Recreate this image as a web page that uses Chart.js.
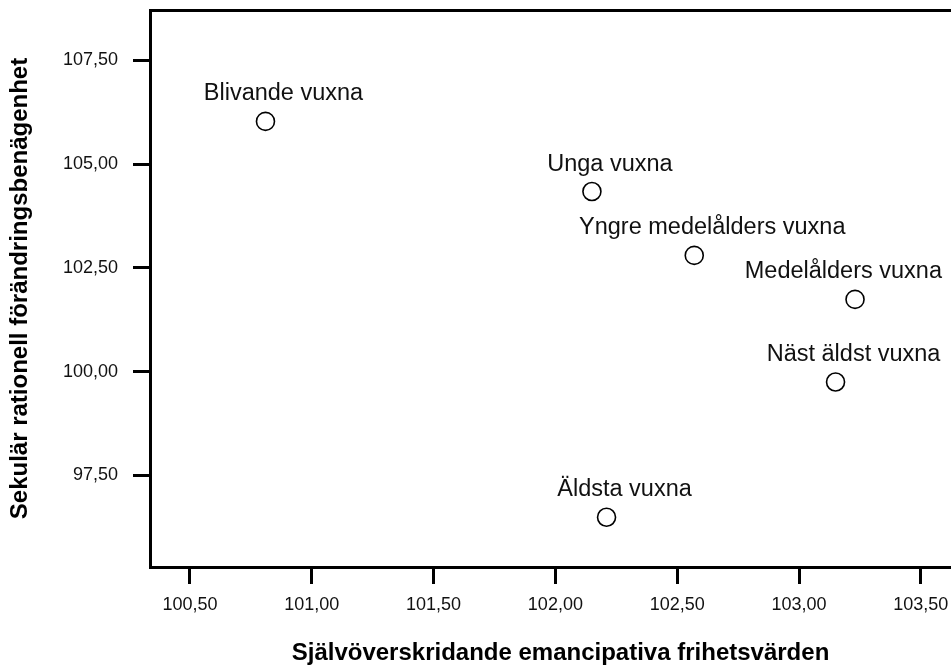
<!DOCTYPE html>
<html>
<head>
<meta charset="utf-8">
<script src="https://cdn.jsdelivr.net/npm/chart.js@4/dist/chart.umd.min.js"></script>
<style>
    html, body { margin: 0; padding: 0; background: #fff; overflow: hidden; }
    #wrap { width: 951px; height: 666px; overflow: hidden; }
</style>
</head>
<body>
<div id="wrap"><canvas id="chart" width="971" height="666"></canvas></div>
<script>
const groups = ['Blivande vuxna', 'Unga vuxna', 'Yngre medelålders vuxna', 'Medelålders vuxna', 'Näst äldst vuxna', 'Äldsta vuxna'];
const emancipative = [100.81, 102.15, 102.57, 103.23, 103.15, 102.21];
const secularRational = [106.03, 104.34, 102.80, 101.74, 99.75, 96.49];

const xTicks = [100.5, 101, 101.5, 102, 102.5, 103, 103.5];
const xTickLabels = ['100,50', '101,00', '101,50', '102,00', '102,50', '103,00', '103,50'];
const yTicks = [97.5, 100, 102.5, 105, 107.5];
const yTickLabels = ['97,50', '100,00', '102,50', '105,00', '107,50'];

const xTitle = 'Självöverskridande emancipativa frihetsvärden';
const yTitle = 'Sekulär rationell förändringsbenägenhet';

const FONT = '"Liberation Sans", Arial, sans-serif';
const X_MIN = 100.336, X_MAX = 103.706;
const Y_MIN = 95.29, Y_MAX = 108.715;

// point labels, drawn above and a bit right of each circle
const pointLabels = {
    id: 'pointLabels',
    afterDatasetsDraw(chart) {
        const ctx = chart.ctx;
        const meta = chart.getDatasetMeta(0);
        ctx.save();
        ctx.font = '23.5px ' + FONT;
        ctx.fillStyle = '#111';
        ctx.textAlign = 'center';
        ctx.textBaseline = 'alphabetic';
        meta.data.forEach((pt, i) => {
            const w = ctx.measureText(groups[i]).width;
            const cx = Math.min(pt.x + 18, 942 - w / 2);
            ctx.fillText(groups[i], cx, pt.y - 21);
        });
        ctx.restore();
    }
};

const noPad = s => { s.paddingTop = 0; s.paddingBottom = 0; s.paddingLeft = 0; s.paddingRight = 0; };

const tickFont = { family: FONT, size: 18 };
const titleFont = { family: FONT, size: 24, weight: 'bold', lineHeight: 1 };

new Chart(document.getElementById('chart'), {
    type: 'scatter',
    data: {
        datasets: [{
            data: emancipative.map((x, i) => ({ x: x, y: secularRational[i] })),
            pointRadius: 9,
            pointBorderWidth: 1.6,
            borderColor: '#000',
            backgroundColor: '#fff'
        }]
    },
    options: {
        responsive: false,
        animation: false,
        devicePixelRatio: 1,
        layout: { autoPadding: false, padding: { top: 10, left: 0, right: 0, bottom: 0 } },
        plugins: {
            legend: { display: false },
            tooltip: { enabled: false }
        },
        scales: {
            x: {
                type: 'linear',
                position: 'bottom',
                min: X_MIN,
                max: X_MAX,
                afterBuildTicks: s => { s.ticks = xTicks.map(v => ({ value: v })); },
                afterFit: s => { s.height = 99; noPad(s); },
                ticks: {
                    callback: (v, i) => xTickLabels[i],
                    font: tickFont,
                    color: '#111',
                    padding: 10,
                    maxRotation: 0
                },
                grid: {
                    drawOnChartArea: false,
                    drawTicks: true,
                    tickLength: 17,
                    lineWidth: 3,
                    color: '#000'
                },
                border: { display: true, width: 3, color: '#000' },
                title: {
                    display: true,
                    text: xTitle,
                    font: titleFont,
                    color: '#000',
                    padding: { top: 0, bottom: 1 }
                }
            },
            xTop: {
                type: 'linear',
                position: 'top',
                min: X_MIN,
                max: X_MAX,
                afterFit: s => { s.height = 0; noPad(s); },
                ticks: { display: false },
                grid: { display: false, drawTicks: false },
                border: { display: true, width: 3, color: '#000' }
            },
            y: {
                type: 'linear',
                position: 'left',
                min: Y_MIN,
                max: Y_MAX,
                afterBuildTicks: s => { s.ticks = yTicks.map(v => ({ value: v })); },
                afterFit: s => { s.width = 150; noPad(s); },
                ticks: {
                    callback: (v, i) => yTickLabels[i],
                    font: tickFont,
                    color: '#111',
                    padding: 15
                },
                grid: {
                    drawOnChartArea: false,
                    drawTicks: true,
                    tickLength: 17,
                    lineWidth: 3,
                    color: '#000'
                },
                border: { display: true, width: 3, color: '#000' },
                title: {
                    display: true,
                    text: yTitle,
                    font: titleFont,
                    color: '#000',
                    padding: { top: 8, bottom: 0 }
                }
            }
        }
    },
    plugins: [pointLabels]
});
</script>
</body>
</html>
